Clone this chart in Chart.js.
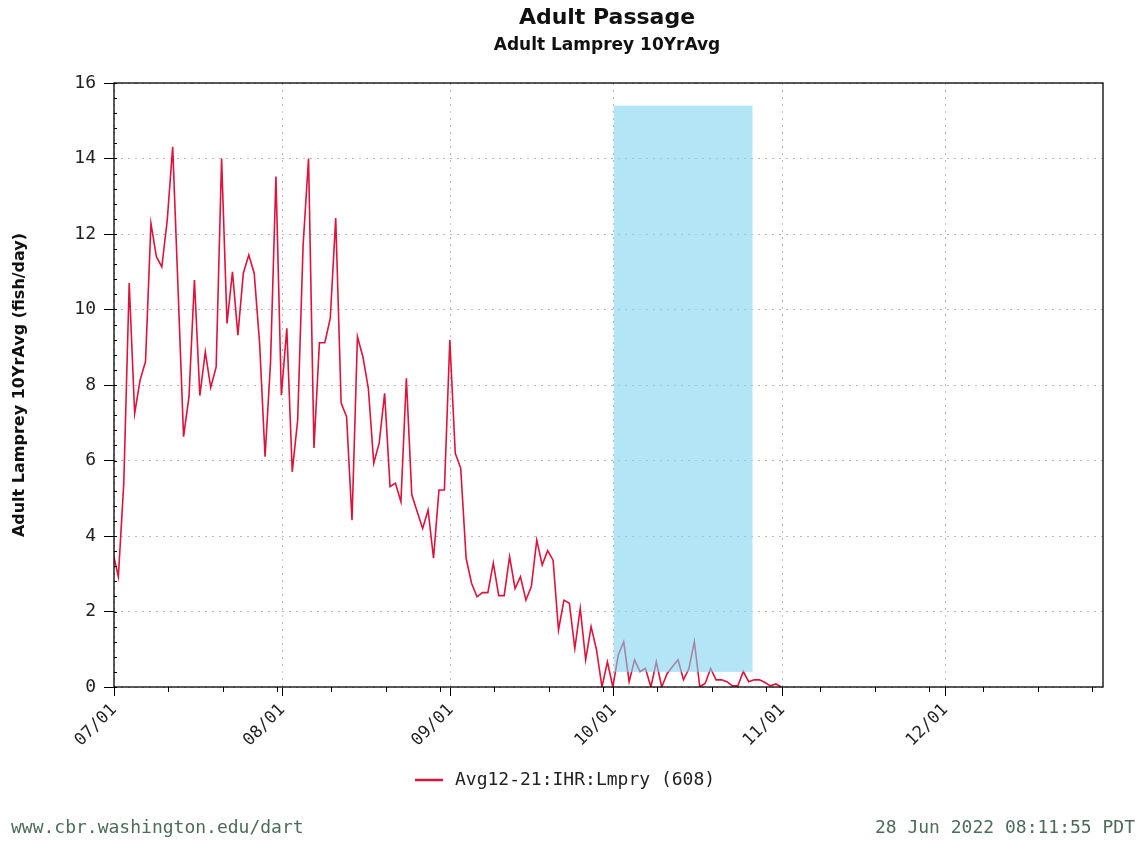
<!DOCTYPE html>
<html><head><meta charset="utf-8">
<script src="https://cdn.jsdelivr.net/npm/chart.js@4.4.1/dist/chart.umd.min.js"></script>
<style>html,body{margin:0;padding:0;background:#fff}#w{width:1143px;height:841px}</style>
</head><body><div id="w"><canvas id="c"></canvas></div>
<script>
const title = "Adult Passage";
const subtitle = "Adult Lamprey 10YrAvg";
const yTitle = "Adult Lamprey 10YrAvg (fish/day)";
const seriesName = "Avg12-21:IHR:Lmpry (608)";
const tickDays = [0, 31, 62, 92, 123, 153];
const tickLabels = ["07/01", "08/01", "09/01", "10/01", "11/01", "12/01"];
const yTicks = [0, 2, 4, 6, 8, 10, 12, 14, 16];
const values = [
3.56,2.92,5.4,10.7,7.25,8.13,8.62,12.28,11.4,11.13,12.37,14.31,10.5,6.63,7.69,10.78,7.72,8.88,7.93,8.48,
14.0,9.63,11.0,9.32,10.96,11.44,10.96,9.1,6.1,8.58,13.52,7.73,9.5,5.7,7.07,11.7,14.0,6.33,9.12,9.12,
9.77,12.42,7.52,7.16,4.42,9.28,8.75,7.92,5.93,6.46,7.78,5.31,5.4,4.91,8.18,5.09,4.64,4.2,4.69,3.41,
5.22,5.22,9.19,6.19,5.8,3.41,2.75,2.39,2.5,2.5,3.28,2.42,2.42,3.45,2.61,2.92,2.3,2.66,3.89,3.23,
3.61,3.36,1.51,2.3,2.22,1.02,2.08,0.72,1.6,0.98,0,0.67,0,0.85,1.2,0.14,0.72,0.41,0.49,0,
0.67,0,0.36,0.54,0.72,0.19,0.49,1.2,0,0.1,0.49,0.19,0.19,0.14,0.03,0.03,0.41,0.14,0.19,0.19,
0.12,0.03,0.08,0
];
const firstDay = -0.2;
const shadeDays = [92, 117.5];
const shadeValues = [0.4, 15.4];
const points = values.map((v, i) => ({x: firstDay + i, y: v}));

const FONT = "'DejaVu Sans', sans-serif";
const MONO = "'DejaVu Sans Mono', monospace";
const overlay = {
  id: 'overlay',
  afterDatasetsDraw(chart) {
    const {ctx, scales: {x, y}} = chart;
    ctx.save();
    ctx.fillStyle = 'rgba(128,212,242,0.6)';
    const x0 = x.getPixelForValue(shadeDays[0]), x1 = x.getPixelForValue(shadeDays[1]);
    const y0 = y.getPixelForValue(shadeValues[1]), y1 = y.getPixelForValue(shadeValues[0]);
    ctx.fillRect(x0, y0, x1 - x0, y1 - y0);
    ctx.strokeStyle = '#000'; ctx.lineWidth = 1;
    for (let v = 0; v <= 16.001; v += 0.4) {
      const py = Math.round(y.getPixelForValue(v)) + 0.5;
      ctx.beginPath(); ctx.moveTo(x.left, py); ctx.lineTo(x.left + 3, py); ctx.stroke();
    }
    for (let d = 0; d <= 182; d += 10) {
      const px = Math.round(x.getPixelForValue(d)) + 0.5;
      ctx.beginPath(); ctx.moveTo(px, y.bottom); ctx.lineTo(px, y.bottom + 5); ctx.stroke();
    }
    ctx.lineWidth = 1.3;
    ctx.strokeRect(x.left, y.top, x.right - x.left, y.bottom - y.top);
    ctx.restore();
  },
  afterDraw(chart) {
    const ctx = chart.ctx;
    ctx.save();
    ctx.fillStyle = '#111'; ctx.textAlign = 'center'; ctx.textBaseline = 'middle';
    ctx.font = "bold 22px " + FONT; ctx.fillText(title, 607, 18);
    ctx.font = "bold 17px " + FONT; ctx.fillText(subtitle, 607, 46);
    ctx.strokeStyle = 'rgb(220,20,60)'; ctx.lineWidth = 2.5;
    ctx.beginPath(); ctx.moveTo(415, 780); ctx.lineTo(443, 780); ctx.stroke();
    ctx.textAlign = 'left'; ctx.font = "18px " + MONO; ctx.fillStyle = '#222';
    ctx.fillText(seriesName, 455, 780);
    ctx.fillStyle = '#4d6b5d';
    ctx.fillText("www.cbr.washington.edu/dart", 11, 828);
    ctx.textAlign = 'right';
    ctx.fillText("28 Jun 2022 08:11:55 PDT", 1135, 828);
    ctx.restore();
  }
};

new Chart(document.getElementById('c'), {
  type: 'line',
  data: {datasets: [{label: seriesName, data: points, borderColor: 'rgb(220,20,60)', borderWidth: 1.6, pointRadius: 0, tension: 0, fill: false}]},
  options: {
    responsive: true, maintainAspectRatio: false, animation: false,
    layout: {padding: {top: 83, right: 40, left: 0, bottom: 0}},
    plugins: {legend: {display: false}, tooltip: {enabled: false}},
    scales: {
      x: {
        type: 'linear', min: 0, max: 182,
        afterBuildTicks: s => { s.ticks = tickDays.map(v => ({value: v})); },
        afterFit: s => { s.height = 154; },
        ticks: {autoSkip: false, maxRotation: 45, minRotation: 45, color: '#222', padding: 4, font: {family: MONO, size: 17},
          callback: v => tickLabels[tickDays.indexOf(v)] ?? ''},
        grid: {color: '#bbb', lineWidth: 1, tickLength: 9, tickColor: '#000', drawTicks: true},
        border: {display: false, dash: [2, 5]}
      },
      y: {
        min: 0, max: 16,
        afterBuildTicks: s => { s.ticks = yTicks.map(v => ({value: v})); },
        afterFit: s => { s.width = 114; },
        ticks: {color: '#222', font: {family: MONO, size: 18}, padding: 8},
        grid: {color: '#bbb', tickLength: 10, tickColor: '#000'},
        border: {display: false, dash: [2, 5]},
        title: {display: true, text: yTitle, color: '#111', font: {family: FONT, size: 16, weight: 'bold'}, padding: {top: 10, bottom: 6}}
      }
    }
  },
  plugins: [overlay]
});
</script></body></html>
